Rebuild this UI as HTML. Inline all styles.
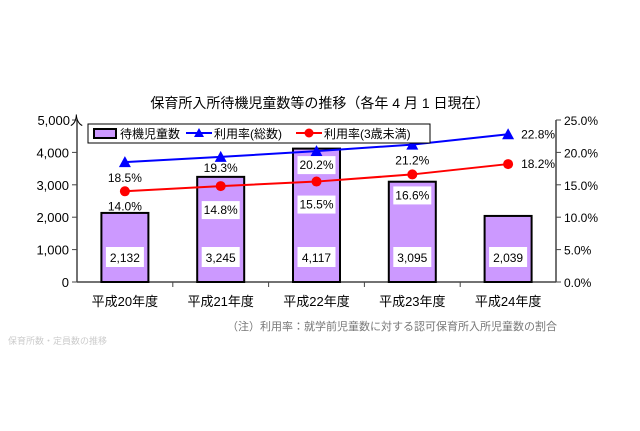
<!DOCTYPE html>
<html><head><meta charset="utf-8"><style>
body{margin:0;background:#fff;}
svg text{font-family:"Liberation Sans","Noto Sans CJK JP",sans-serif;}
</style></head><body>
<svg id="c" width="640" height="426" xmlns="http://www.w3.org/2000/svg">
<rect width="640" height="426" fill="#fff"/>
<text x="320" y="108" text-anchor="middle" font-size="14" fill="#000">保育所入所待機児童数等の推移（各年 4 月 1 日現在）</text>
<g id="axes"></g>
<g id="bars"></g>
<g id="lines"></g>
<g>
<rect x="88" y="124" width="342" height="19" fill="#fff" stroke="#000" stroke-width="1"/>
<rect x="94" y="129" width="22" height="9" fill="#cc99ff" stroke="#000" stroke-width="2"/>
<text x="120" y="138" font-size="12">待機児童数</text>
<line x1="186" y1="133" x2="212" y2="133" stroke="#0000ff" stroke-width="2"/>
<polygon points="199,128 204,137 194,137" fill="#0000ff"/>
<text x="214" y="138" font-size="12">利用率(総数)</text>
<line x1="296" y1="133" x2="322" y2="133" stroke="#ff0000" stroke-width="2"/>
<circle cx="309" cy="133" r="4.5" fill="#ff0000"/>
<text x="324" y="138" font-size="12">利用率(3歳未満)</text>
</g>
<text x="557" y="330" text-anchor="end" font-size="11" fill="#777" font-family="Liberation Serif,Noto Serif CJK SC,serif">（注）利用率：就学前児童数に対する認可保育所入所児童数の割合</text>
<text x="8" y="344" font-size="9" fill="#ccc">保育所数・定員数の推移</text>
</svg>
<script>
const categories=["平成20年度","平成21年度","平成22年度","平成23年度","平成24年度"];
const waiting=[2132,3245,4117,3095,2039];
const rateTotal=[18.5,19.3,20.2,21.2,22.8];
const rateUnder3=[14.0,14.8,15.5,16.6,18.2];
const leftTicks=[0,1000,2000,3000,4000,5000];
const rightTicks=[0,5,10,15,20,25];
const NS="http://www.w3.org/2000/svg";
const X0=77,X1=556,Y0=282,Y1=120;
const step=(X1-X0)/categories.length;
const xc=i=>X0+step*(i+0.5);
const yL=v=>Y0-(v/5000)*(Y0-Y1);
const yR=v=>Y0-(v/25)*(Y0-Y1);
function mk(tag,attrs,parent,txt){const e=document.createElementNS(NS,tag);for(const k in attrs)e.setAttribute(k,attrs[k]);if(txt!==undefined)e.textContent=txt;parent.appendChild(e);return e;}
const axes=document.getElementById('axes'),bars=document.getElementById('bars'),lines=document.getElementById('lines');
let a=mk('line',{x1:X0,y1:Y1,x2:X0,y2:Y0,stroke:'#444','stroke-width':1.5},axes);


a=mk('line',{x1:X1,y1:Y1,x2:X1,y2:Y0,stroke:'#444','stroke-width':1.5},axes);


a=mk('line',{x1:X0,y1:Y0,x2:X1,y2:Y0,stroke:'#444','stroke-width':1.5},axes);


leftTicks.forEach(v=>{const y=yL(v);mk('line',{x1:X0-5,y1:y,x2:X0,y2:y,stroke:'#444'},axes);
const t=mk('text',{x:X0-8,y:y+5,'text-anchor':'end','font-size':13},axes,v.toLocaleString('en-US')+(v===5000?'人':''));


if(v===5000)t.setAttribute('x',X0+6);});
rightTicks.forEach(v=>{const y=yR(v);mk('line',{x1:X1,y1:y,x2:X1+5,y2:y,stroke:'#444'},axes);
const t=mk('text',{x:X1+8,y:y+5,'font-size':12},axes,v.toFixed(1)+'%');

});
for(let i=1;i<categories.length;i++){mk('line',{x1:X0+step*i,y1:Y0,x2:X0+step*i,y2:Y0+5,stroke:'#444'},axes);}
categories.forEach((c,i)=>{const t=mk('text',{x:xc(i),y:Y0+24,'text-anchor':'middle','font-size':13},axes,c);

});
waiting.forEach((v,i)=>{const w=47;const r=mk('rect',{x:xc(i)-w/2,y:yL(v),width:w,height:Y0-yL(v),fill:'#cc99ff',stroke:'#000','stroke-width':2},bars);


mk('rect',{x:xc(i)-19,y:Y0-35,width:38,height:20,fill:'#fff'},bars);
const t=mk('text',{x:xc(i),y:Y0-20,'text-anchor':'middle','font-size':12},bars,v.toLocaleString('en-US'));

});
function series(vals,color,name,marker,labelPos){
const pts=vals.map((v,i)=>xc(i)+','+yR(v)).join(' ');
const pl=mk('polyline',{points:pts,fill:'none',stroke:color,'stroke-width':2},lines);


vals.forEach((v,i)=>{const x=xc(i),y=yR(v);let m;
if(marker==='tri')m=mk('polygon',{points:`${x},${y-6} ${x+6},${y+5} ${x-6},${y+5}`,fill:color},lines);
else m=mk('circle',{cx:x,cy:y,r:5,fill:color},lines);


const [dx,dy,box]=labelPos[i];
if(box)mk('rect',{x:x+dx-19,y:y+dy-13,width:38,height:18,fill:'#fff'},lines);
const t=mk('text',{x:x+dx,y:y+dy,'text-anchor':'middle','font-size':12},lines,v.toFixed(1)+'%');

});}
series(rateTotal,'#0000ff','rate-total','tri',[[0,20,0],[0,15,0],[0,18,1],[0,20,0],[30,4,0]]);
series(rateUnder3,'#ff0000','rate-under3','circle',[[0,19,0],[0,28,1],[0,27,1],[0,25,1],[30,4,0]]);
</script>
</body></html>
